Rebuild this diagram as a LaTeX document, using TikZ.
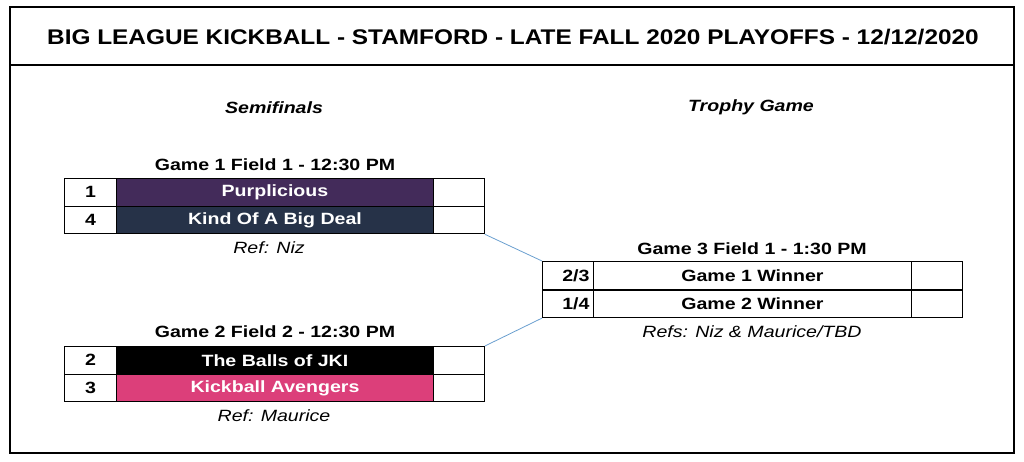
\documentclass[tikz,border=0pt]{standalone}
\usepackage{fontspec}
\setmainfont{Liberation Sans}
\newfontfamily\stretchedff[FakeStretch=1.2]{Liberation Sans}
\newfontfamily\headff[FakeStretch=1.15]{Liberation Sans}
\definecolor{purp}{HTML}{432B5A}
\definecolor{navy}{HTML}{263248}
\definecolor{pinkk}{HTML}{DC3F7A}
\definecolor{connc}{HTML}{6A9FCF}
\newcommand{\cellfont}{\stretchedff\fontsize{16.3}{19}\selectfont\bfseries}
\begin{document}
\begin{tikzpicture}[x=1pt,y=-1pt,
  cell/.style={draw, line width=0.9pt, inner sep=0pt, anchor=north west, minimum height=27.7, font=\cellfont},
  numcell/.style={cell, minimum width=52},
  teamcell/.style={cell, minimum width=317, text=white},
  scorecell/.style={cell, minimum width=51},
  gtitle/.style={font=\stretchedff\fontsize{16.3}{19}\selectfont\bfseries},
  reflabel/.style={font=\stretchedff\fontsize{16.3}{19}\selectfont\itshape},
  roundlabel/.style={font=\stretchedff\fontsize{16.3}{19}\selectfont\bfseries\itshape},
  conn/.style={draw=connc, line width=0.8pt}]
\useasboundingbox (0,0) rectangle (1024,462);
% frame
\draw[line width=2pt] (9.5,7.5) rectangle (1014,453);
\draw[line width=2pt] (9.5,65) -- (1014,65);
\node[font=\headff\fontsize{21.2}{25}\selectfont\bfseries] (header) at (513,37.5) {BIG LEAGUE KICKBALL - STAMFORD - LATE FALL 2020 PLAYOFFS - 12/12/2020};
% round labels
\node[roundlabel] (semi) at (274,107.5) {Semifinals};
\node[roundlabel] (trophy) at (751,107.5) {Trophy Game};
% Game 1
\node[gtitle] (g1t) at (275,164.5) {Game 1 Field 1 - 12:30 PM};
\node[numcell] (g1n1) at (64,178) {1};
\node[teamcell, fill=purp] (g1t1) at (116,178) {Purplicious};
\node[scorecell] (g1s1) at (433,178) {};
\node[numcell] (g1n2) at (64,205.7) {4};
\node[teamcell, fill=navy] (g1t2) at (116,205.7) {Kind Of A Big Deal};
\node[scorecell] (g1s2) at (433,205.7) {};
\node[reflabel] (g1r) at (269,247.5) {Ref: Niz};
% Game 2
\node[gtitle] (g2t) at (275,331.5) {Game 2 Field 2 - 12:30 PM};
\node[numcell] (g2n1) at (64,346) {2};
\node[teamcell, fill=black] (g2t1) at (116,346) {The Balls of JKI};
\node[scorecell] (g2s1) at (433,346) {};
\node[numcell] (g2n2) at (64,373.7) {3};
\node[teamcell, fill=pinkk] (g2t2) at (116,373.7) {Kickball Avengers};
\node[scorecell] (g2s2) at (433,373.7) {};
\node[reflabel] (g2r) at (274,415.5) {Ref: Maurice};
% Game 3
\node[gtitle] (g3t) at (752,248.5) {Game 3 Field 1 - 1:30 PM};
\node[numcell, minimum width=51, text width=43, align=right] (g3n1) at (542,261) {2/3};
\node[cell, minimum width=318] (g3t1) at (593,261) {Game 1 Winner};
\node[scorecell] (g3s1) at (911,261) {};
\node[numcell, minimum width=51, text width=43, align=right] (g3n2) at (542,289.5) {1/4};
\node[cell, minimum width=318] (g3t2) at (593,289.5) {Game 2 Winner};
\node[scorecell] (g3s2) at (911,289.5) {};
\node[reflabel] (g3r) at (752,331.5) {Refs: Niz \& Maurice/TBD};
% connectors
\draw[conn] (g1s2.south east) -- (g3n1.north west);
\draw[conn] (g3n2.south west) -- (g2s1.north east);
\end{tikzpicture}
\end{document}
